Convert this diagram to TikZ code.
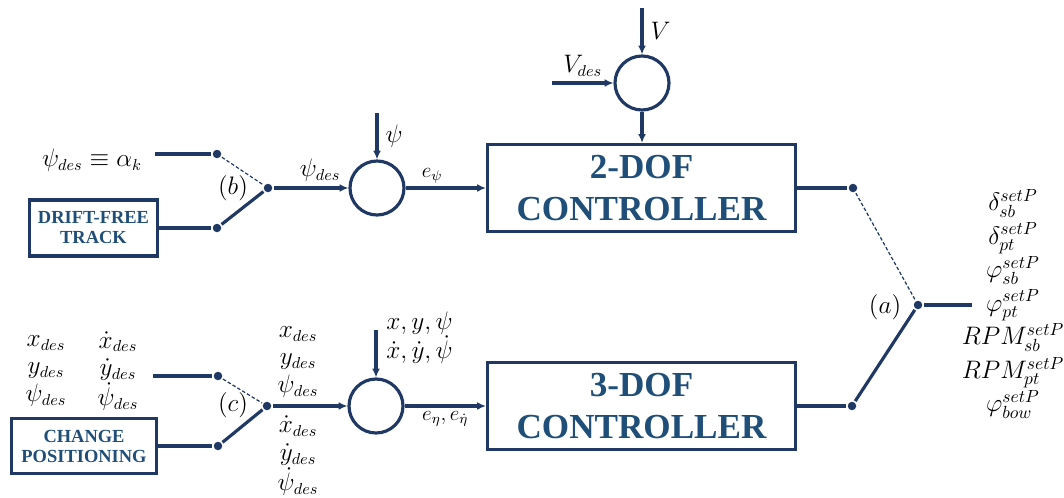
\documentclass[tikz,border=0pt]{standalone}
\usepackage{amsmath}
\usepackage{amssymb}
\usepackage{fontspec}
\newfontfamily\blockfont{Liberation Serif}
\usetikzlibrary{arrows.meta,positioning}
\definecolor{linecol}{RGB}{32,56,100}
\definecolor{blocktext}{RGB}{31,78,121}
\def\sumsize{1.08cm}
\def\dotsize{0.17cm}

\begin{document}
\begin{tikzpicture}[x=0.02cm,y=-0.02cm,
  line width=1.8pt,color=linecol,
  ctrl/.style={draw,line width=1.8pt,minimum width=6.16cm,minimum height=1.74cm,
    align=center,text=blocktext,
    font=\blockfont\bfseries\fontsize{20}{24.4}\selectfont},
  refbox/.style={draw,line width=1.8pt,align=center,text=blocktext,
    font=\blockfont\bfseries\fontsize{10.5}{11.4}\selectfont},
  sumnode/.style={circle,draw,line width=1.8pt,minimum size=\sumsize,inner sep=0pt},
  swdot/.style={circle,fill,inner sep=0pt,minimum size=\dotsize},
  swopen/.style={line width=0.7pt,dash pattern=on 2pt off 1.2pt},
  sig/.style={-{Latex[length=5pt,width=4.5pt]}},
  lbl/.style={text=black,inner sep=1pt,font=\fontsize{13.5}{15.6}\selectfont},
  swlbl/.style={text=black,inner sep=1pt,font=\fontsize{14}{16}\selectfont},
  errlbl/.style={text=black,inner sep=2pt,font=\fontsize{12}{14}\selectfont}]
\useasboundingbox (0,0) rectangle (1064,497);
% the two controllers
\node[ctrl] (dof2) at (641.5,188) {2-DOF\\CONTROLLER};
\node[ctrl] (dof3) at (641.5,406) {3-DOF\\CONTROLLER};
% the summing junctions
\node[sumnode] (sumV) at (642,83) {};
\node[sumnode] (sumpsi) at (377,188) {};
\node[sumnode] (sumeta) at (376,406) {};
% the speed loop
\coordinate (Vin) at (642,8);
\coordinate (Vdesin) at (552,83);
\draw[sig] (Vin) -- node[lbl,right=3pt]{$V$} (sumV.north);
\draw[sig] (Vdesin) -- node[lbl,above=2pt]{$V_{des}$} (sumV.west);
\draw[sig] (sumV.south) -- (sumV.south |- dof2.north);
% the heading loop and switch (b)
\node[lbl] (alphalbl) at (92,160) {$\psi_{des}\equiv\alpha_k$};
\node[refbox,minimum width=2.56cm,minimum height=1.12cm] (dft) at (93.5,228)
  {DRIFT-FREE\\TRACK};
\coordinate (alphain) at (155,154);
\node[swdot] (b1) at (217,154) {};
\node[swdot] (b2) at (217,228) {};
\node[swdot] (bout) at (268,188) {};
\draw (alphain) -- (b1);
\draw (dft.east) -- (b2);
\draw[swopen] (b1) -- (bout);
\draw (b2) -- (bout);
\node[swlbl] (blbl) at (233,188) {$(b)$};
\draw[sig] (bout) -- node[lbl,above=2pt,pos=0.62]{$\psi_{des}$} (sumpsi.west);
\coordinate (psiin) at (377,113);
\draw[sig] (psiin) -- node[lbl,right=3pt]{$\psi$} (sumpsi.north);
\draw[sig] (sumpsi.east) -- node[errlbl,above,pos=0.33]{$e_\psi$} (dof2.west);
% the positioning loop and switch (c)
\node[lbl,align=center] (posdes) at (46,371) {$x_{des}$\\$y_{des}$\\$\psi_{des}$};
\node[lbl,align=center] (veldes) at (118,371)
  {$\dot{x}_{des}$\\$\dot{y}_{des}$\\$\dot{\psi}_{des}$};
\node[refbox,minimum width=2.9cm,minimum height=1.1cm] (chpos) at (84,446)
  {CHANGE\\POSITIONING};
\coordinate (desin) at (153,376);
\node[swdot] (c1) at (218,376) {};
\node[swdot] (c2) at (218,446) {};
\node[swdot] (cout) at (267,406) {};
\draw (desin) -- (c1);
\draw (chpos.east) -- (c2);
\draw[swopen] (c1) -- (cout);
\draw (c2) -- (cout);
\node[swlbl] (clbl) at (233,405) {$(c)$};
\draw[sig] (cout) -- (sumeta.west);
\node[lbl,align=center] (posout) at (298,362) {$x_{des}$\\$y_{des}$\\$\psi_{des}$};
\node[lbl,align=center,font=\fontsize{13.5}{15.8}\selectfont] (velout) at (298,456)
  {$\dot{x}_{des}$\\$\dot{y}_{des}$\\$\dot{\psi}_{des}$};
\coordinate (measin) at (376,330);
\draw[sig] (measin) -- (sumeta.north);
\node[lbl,align=left,anchor=west,font=\fontsize{14}{16.4}\selectfont] (measlbl) at (383,338)
  {$x,y,\psi$\\$\dot{x},\dot{y},\dot{\psi}$};
\draw[sig] (sumeta.east) -- node[errlbl,below]{$e_\eta,e_{\dot{\eta}}$} (dof3.west);
% the output switch (a)
\node[swdot] (a1) at (853,188) {};
\node[swdot] (a2) at (852,406) {};
\node[swdot] (aout) at (918,305) {};
\coordinate (setpout) at (972,305);
\draw (dof2.east) -- (a1);
\draw (dof3.east) -- (a2);
\draw[swopen] (a1) -- (aout);
\draw (a2) -- (aout);
\draw (aout) -- (setpout);
\node[swlbl] (albl) at (885,307) {$(a)$};
\node[lbl,align=center,font=\fontsize{14}{19.1}\selectfont] (setplbl) at (1013,304)
  {$\delta_{sb}^{setP}$\\$\delta_{pt}^{setP}$\\$\varphi_{sb}^{setP}$\\$\varphi_{pt}^{setP}$\\
   $RPM_{sb}^{setP}$\\$RPM_{pt}^{setP}$\\$\varphi_{bow}^{setP}$};
\end{tikzpicture}
\end{document}
